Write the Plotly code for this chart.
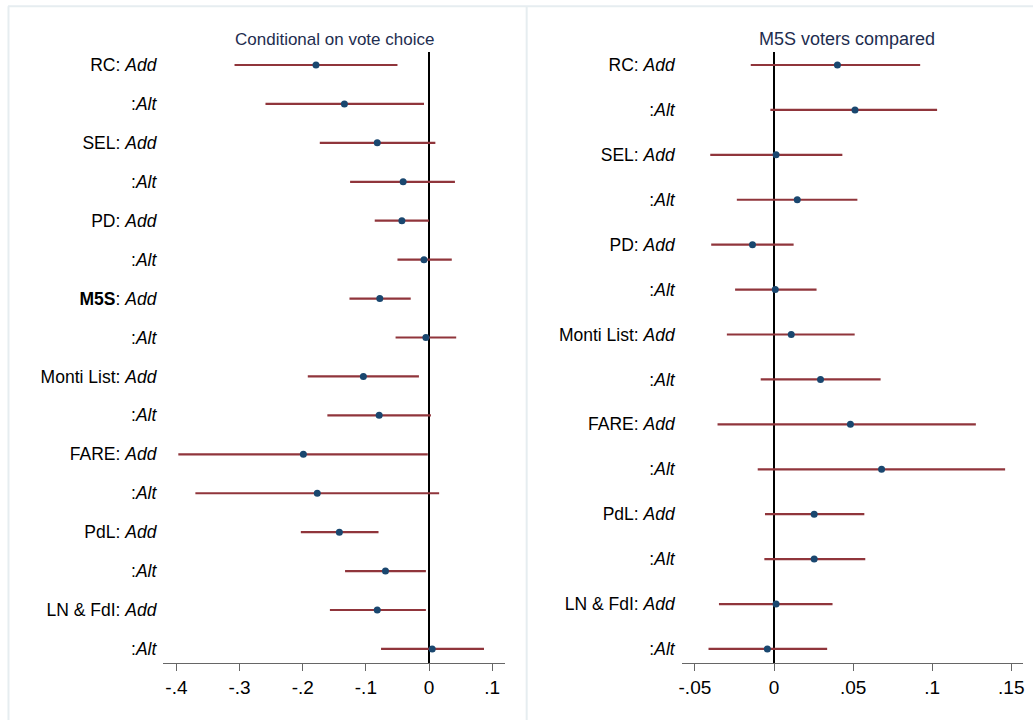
import plotly.graph_objects as go

# ---------------- data ----------------
labels_left = ["RC: <i>Add</i>", ":<i>Alt</i>", "SEL: <i>Add</i>", ":<i>Alt</i>",
               "PD: <i>Add</i>", ":<i>Alt</i>", "<b>M5S</b>: <i>Add</i>", ":<i>Alt</i>",
               "Monti List: <i>Add</i>", ":<i>Alt</i>", "FARE: <i>Add</i>", ":<i>Alt</i>",
               "PdL: <i>Add</i>", ":<i>Alt</i>", "LN & FdI: <i>Add</i>", ":<i>Alt</i>"]
est_left = [-0.179, -0.134, -0.082, -0.041, -0.043, -0.008, -0.078, -0.005,
            -0.104, -0.079, -0.199, -0.177, -0.142, -0.069, -0.082, 0.005]
lo_left = [-0.308, -0.259, -0.173, -0.125, -0.086, -0.050, -0.126, -0.053,
           -0.192, -0.161, -0.397, -0.370, -0.203, -0.133, -0.157, -0.076]
hi_left = [-0.050, -0.008, 0.010, 0.041, 0.000, 0.036, -0.029, 0.043,
           -0.016, 0.003, -0.002, 0.016, -0.080, -0.005, -0.005, 0.087]

labels_right = ["RC: <i>Add</i>", ":<i>Alt</i>", "SEL: <i>Add</i>", ":<i>Alt</i>",
                "PD: <i>Add</i>", ":<i>Alt</i>", "Monti List: <i>Add</i>", ":<i>Alt</i>",
                "FARE: <i>Add</i>", ":<i>Alt</i>", "PdL: <i>Add</i>", ":<i>Alt</i>",
                "LN & FdI: <i>Add</i>", ":<i>Alt</i>"]
est_right = [0.0401, 0.0512, 0.0013, 0.0147, -0.0136, 0.0008, 0.0109, 0.0294,
             0.0483, 0.0680, 0.0254, 0.0254, 0.0013, -0.0042]
lo_right = [-0.0147, -0.0023, -0.0403, -0.0235, -0.0397, -0.0246, -0.0298, -0.0084,
            -0.0357, -0.0103, -0.0057, -0.0061, -0.0348, -0.0414]
hi_right = [0.0924, 0.1031, 0.0432, 0.0527, 0.0124, 0.0269, 0.0510, 0.0674,
            0.1276, 0.1461, 0.0571, 0.0577, 0.0370, 0.0336]

xticks_left = [-0.4, -0.3, -0.2, -0.1, 0, 0.1]
xticktext_left = ["-.4", "-.3", "-.2", "-.1", "0", ".1"]
xticks_right = [-0.05, 0, 0.05, 0.1, 0.15]
xticktext_right = ["-.05", "0", ".05", ".1", ".15"]

title_left = "Conditional on vote choice"
title_right = "M5S voters compared"

# ---------------- style ----------------
W, H = 1034, 720
FONT = "Liberation Sans"
CI_COL = "#90353b"
PT_COL = "#1a476f"


def px_x(p):
    return p / W


def px_y(p):
    return 1 - p / H


fig = go.Figure()


def add_panel(labels, est, lo, hi, xa, ya):
    ys = list(range(len(labels)))
    fig.add_trace(go.Scatter(
        x=est, y=ys, mode="markers",
        marker=dict(color=PT_COL, size=7),
        error_x=dict(type="data", symmetric=False,
                     array=[h - e for h, e in zip(hi, est)],
                     arrayminus=[e - l for e, l in zip(est, lo)],
                     color=CI_COL, thickness=2.2, width=0),
        xaxis=xa, yaxis=ya, showlegend=False, hoverinfo="skip"))


add_panel(labels_left, est_left, lo_left, hi_left, "x", "y")
add_panel(labels_right, est_right, lo_right, hi_right, "x2", "y2")

ydom = [px_y(663), px_y(52)]
common_x = dict(showgrid=False, showline=True, linecolor="#666666", linewidth=1.3,
                ticks="outside", ticklen=7, tickcolor="#666666", tickwidth=1.3,
                zeroline=True, zerolinecolor="black", zerolinewidth=2,
                tickfont=dict(family=FONT, size=19, color="black"))
common_y = dict(showgrid=False, showline=False, zeroline=False, ticks="",
                ticklabelstandoff=6,
                tickfont=dict(family=FONT, size=17.5, color="black"))

# left panel: zero at 427.7px, 634 px per unit
fig.update_layout(
    xaxis=dict(domain=[px_x(161), px_x(504)],
               range=[(161 - 427.7) / 634, (504 - 427.7) / 634],
               tickvals=xticks_left, ticktext=xticktext_left, anchor="y", **common_x),
    yaxis=dict(domain=ydom, anchor="x",
               range=[(663 - 65) / 38.93, (52 - 65) / 38.93],
               tickvals=list(range(len(labels_left))), ticktext=labels_left, **common_y),
    xaxis2=dict(domain=[px_x(681.3), px_x(1024.3)],
                range=[(681.3 - 774) / 1588, (1024.3 - 774) / 1588],
                tickvals=xticks_right, ticktext=xticktext_right, anchor="y2", **common_x),
    yaxis2=dict(domain=ydom, anchor="x2",
                range=[(663 - 65) / 44.92, (52 - 65) / 44.92],
                tickvals=list(range(len(labels_right))), ticktext=labels_right, **common_y),
)

# panel titles
for txt, cx, fs in [(title_left, 333, 17), (title_right, 847.5, 18)]:
    fig.add_annotation(text=txt, x=px_x(cx), y=px_y(39), xref="paper", yref="paper",
                       showarrow=False, xanchor="center", yanchor="middle",
                       font=dict(family=FONT, size=fs, color="#1e2d4f"))

# faint panel frame lines
line_col = "#e6edf0"
fig.add_shape(type="line", xref="paper", yref="paper", x0=px_x(5), x1=1, y0=px_y(6.3), y1=px_y(6.3),
              line=dict(color=line_col, width=2))
fig.add_shape(type="line", xref="paper", yref="paper", x0=px_x(5.5), x1=px_x(5.5), y0=0, y1=px_y(6.3),
              line=dict(color=line_col, width=2))
fig.add_shape(type="line", xref="paper", yref="paper", x0=px_x(525.7), x1=px_x(525.7), y0=0, y1=px_y(6.3),
              line=dict(color=line_col, width=2))

fig.update_layout(width=W, height=H, margin=dict(l=0, r=0, t=0, b=0),
                  paper_bgcolor="white", plot_bgcolor="white",
                  font=dict(family=FONT))

fig.write_html("out.html", config={"displayModeBar": False},
               post_script="document.body.style.margin='0';document.body.style.overflow='hidden';")
